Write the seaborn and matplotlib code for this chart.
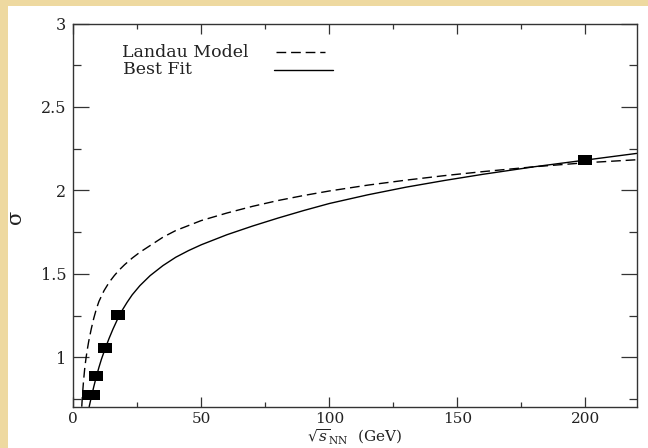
import matplotlib
matplotlib.use("Agg")
import matplotlib.pyplot as plt
from matplotlib.patches import Rectangle
from matplotlib.lines import Line2D
from matplotlib.ticker import FormatStrFormatter
import seaborn as sns

# Landau model prediction: width of the rapidity distribution vs collision energy
landau_energy = [3.3, 3.6, 4.0, 4.5, 5.0, 5.5, 6.0, 7.0, 8.0, 9.0, 10.0, 12.0, 14.0,
                 16.0, 18.0, 20.0, 23.0, 26.0, 30.0, 35.0, 40.0, 45.0, 50.0, 60.0,
                 70.0, 80.0, 90.0, 100.0, 115.0, 130.0, 145.0, 160.0, 180.0,
                 200.0, 220.0]
landau_sigma = [0.705, 0.78, 0.86, 0.94, 1.00, 1.05, 1.095, 1.17, 1.235, 1.29,
                1.335, 1.40, 1.45, 1.49, 1.525, 1.555, 1.595, 1.63, 1.67, 1.72,
                1.76, 1.79, 1.82, 1.865, 1.905, 1.94, 1.97, 1.997, 2.032, 2.062,
                2.089, 2.113, 2.142, 2.166, 2.184]

# Best fit curve
fit_energy = [6.2, 7.0, 8.0, 9.0, 10.0, 11.0, 12.5, 14.0, 15.5, 17.3, 19.0, 21.0,
              23.0, 26.0, 30.0, 35.0, 40.0, 45.0, 50.0, 60.0, 70.0, 80.0, 90.0,
              100.0, 115.0, 130.0, 145.0, 160.0, 180.0, 200.0, 220.0]
fit_sigma = [0.705, 0.76, 0.825, 0.885, 0.94, 0.99, 1.055, 1.115, 1.17, 1.23,
             1.28, 1.33, 1.375, 1.43, 1.49, 1.55, 1.60, 1.64, 1.675, 1.735, 1.787,
             1.835, 1.88, 1.922, 1.974, 2.02, 2.06, 2.097, 2.142, 2.182, 2.222]

# Measured widths
data_energy = [6.3, 7.8, 8.8, 12.3, 17.3, 200.0]
data_sigma = [0.775, 0.775, 0.888, 1.055, 1.253, 2.18]

x_major = [0, 50, 100, 150, 200]
x_minor = [25, 75, 125, 175]
y_major = [1, 1.5, 2, 2.5, 3]
y_minor = [0.75, 1.25, 1.75, 2.25, 2.75]

legend_labels = ["Landau Model", "Best Fit"]

sns.set_theme(style="ticks")
plt.rcParams["font.family"] = ["DejaVu Serif", "DejaVu Sans"]
plt.rcParams["mathtext.fontset"] = "dejavuserif"

W, H = 648, 448
fig = plt.figure(figsize=(W / 100, H / 100), dpi=100)
fig.patch.set_facecolor("#EED9A0")
fig.add_artist(Rectangle((8 / W, 0), 1, 1 - 6 / H, transform=fig.transFigure,
                         facecolor="white", edgecolor="none", zorder=-5))

left, right, top, bottom = 73.3, 636.7, 23.5, 406.7
ax = fig.add_axes([left / W, 1 - bottom / H, (right - left) / W, (bottom - top) / H])
ax.set_facecolor("white")

ink = "#222222"
dash = (0, (7, 3.5))

sns.lineplot(x=landau_energy, y=landau_sigma, ax=ax, color="black", sort=False,
             estimator=None, linewidth=1.0, linestyle=dash)
sns.lineplot(x=fit_energy, y=fit_sigma, ax=ax, color="black", sort=False,
             estimator=None, linewidth=1.0)

rect_marker = [(-1, -0.7), (1, -0.7), (1, 0.7), (-1, 0.7), (-1, -0.7)]
sns.scatterplot(x=data_energy, y=data_sigma, ax=ax, marker=rect_marker, s=105,
                color="black", edgecolor="black", linewidth=0, zorder=5)

ax.set_xlim(0, 220)
ax.set_ylim(0.705, 3)
ax.set_xticks(x_major)
ax.set_xticks(x_minor, minor=True)
ax.set_yticks(y_major)
ax.set_yticks(y_minor, minor=True)
ax.yaxis.set_major_formatter(FormatStrFormatter("%g"))
ax.xaxis.set_major_formatter(FormatStrFormatter("%g"))

ax.tick_params(which="both", direction="in", top=True, right=True,
               color="#333333", width=0.9, labelsize=11.5, labelcolor=ink, pad=5)
ax.tick_params(axis="x", which="both", labelsize=11, pad=3.5)
ax.tick_params(axis="x", which="major", length=7.2)
ax.tick_params(axis="x", which="minor", length=3.6)
ax.tick_params(axis="y", which="major", length=11.5)
ax.tick_params(axis="y", which="minor", length=5.8)
for sp in ax.spines.values():
    sp.set_color("#333333")
    sp.set_linewidth(1.0)

ax.set_xlabel(r"$\sqrt{s}_{\mathrm{NN}}$  (GeV)", fontsize=11, color=ink)
ax.xaxis.set_label_coords(0.5, -0.0545)
ax.set_ylabel("σ", fontsize=15, color=ink)
ax.yaxis.set_label_coords(-0.086, 0.495)

# legend: labels on the left, line samples on the right
ax.text(0.086, 0.925, legend_labels[0], transform=ax.transAxes, fontsize=12.5,
        color=ink, va="center", ha="left")
ax.text(0.088, 0.879, legend_labels[1], transform=ax.transAxes, fontsize=12.5,
        color=ink, va="center", ha="left")
ax.add_line(Line2D([0.360, 0.447], [0.926, 0.926], transform=ax.transAxes,
                   color="black", linewidth=1.0, linestyle=dash))
ax.add_line(Line2D([0.356, 0.461], [0.878, 0.878], transform=ax.transAxes,
                   color="black", linewidth=1.0))

fig.savefig("out.png", dpi=100, facecolor=fig.get_facecolor())
